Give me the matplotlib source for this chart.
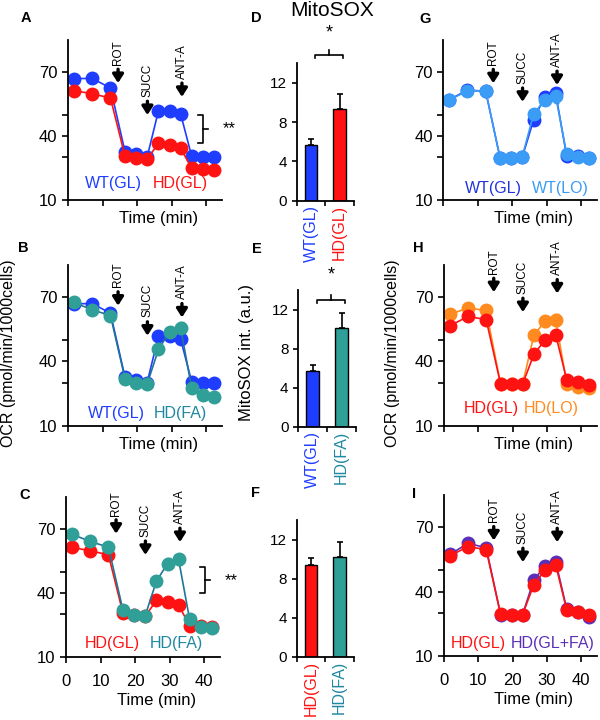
import matplotlib
matplotlib.use('Agg')
import matplotlib.pyplot as plt

plt.rcParams['font.family'] = ['Liberation Sans', 'DejaVu Sans']

# Seahorse measurement times (min)
time_min = [1.7, 7.0, 12.3, 16.5, 19.7, 22.9, 26.2, 29.4, 32.6, 35.8, 39.0, 42.2]
time_ticks = [0, 10, 20, 30, 40]
ocr_ticks = [10, 30, 40, 50, 70]
ocr_labels = ['10', '', '40', '', '70']
injections = ['ROT', 'SUCC', 'ANT-A']

# OCR series (pmol/min/1000cells), panels A-C
wt_gl = [66.9, 67.0, 62.5, 32.7, 31.4, 30.0, 51.8, 51.8, 50.5, 30.6, 30.0, 30.0]
wt_gl_err = [1.2, 1.2, 1.0, 1.0, 0.8, 0.8, 1.5, 2.0, 1.8, 1.0, 0.8, 0.8]
hd_gl = [61.3, 59.8, 57.8, 30.6, 29.6, 29.1, 36.6, 35.6, 34.4, 24.8, 24.4, 24.0]
hd_gl_err = [1.0, 1.0, 1.0, 0.8, 0.8, 0.8, 1.5, 2.0, 2.0, 1.0, 0.8, 0.8]
hd_fa = [67.5, 64.1, 61.4, 32.0, 29.7, 29.3, 45.6, 53.7, 55.8, 27.7, 24.3, 23.6]
hd_fa_err = [1.8, 1.8, 2.0, 1.0, 0.8, 0.8, 2.0, 2.5, 2.5, 1.5, 1.0, 0.8]

# panel G
g_wt_gl = [57.0, 61.5, 61.0, 29.5, 29.5, 30.0, 47.5, 58.4, 60.0, 30.6, 30.5, 29.8]
g_wt_gl_err = [2.0, 2.5, 2.5, 0.8, 0.5, 0.5, 1.5, 2.0, 2.5, 1.0, 1.0, 0.8]
g_wt_lo = [56.8, 61.2, 61.1, 29.5, 29.5, 30.3, 50.3, 56.8, 58.7, 31.5, 30.3, 29.8]
g_wt_lo_err = [2.0, 2.5, 2.5, 0.8, 0.5, 0.5, 1.5, 2.5, 3.0, 1.5, 1.5, 1.0]

# panels H and I
h_hd_gl = [56.6, 61.0, 59.5, 29.4, 29.3, 29.3, 43.3, 49.9, 52.2, 31.3, 30.4, 29.0]
h_hd_gl_err = [1.5, 1.8, 1.8, 0.5, 0.5, 0.5, 1.5, 2.0, 2.2, 1.0, 1.0, 1.0]
h_hd_lo = [62.0, 64.9, 63.8, 29.4, 29.4, 29.4, 52.2, 58.7, 59.2, 29.4, 28.1, 27.4]
h_hd_lo_err = [1.5, 1.8, 2.0, 0.5, 0.5, 0.5, 2.0, 2.5, 2.8, 1.5, 1.5, 1.2]
i_hd_glfa = [57.3, 62.5, 60.4, 29.3, 29.3, 29.3, 45.6, 51.7, 53.7, 31.7, 30.5, 28.2]
i_hd_glfa_err = [1.5, 1.5, 1.5, 0.5, 0.5, 0.5, 1.5, 2.0, 2.0, 1.0, 1.0, 1.0]

# MitoSOX bars (a.u.)
d_groups = ['WT(GL)', 'HD(GL)']
d_values = [5.65, 9.36]
d_err = [0.65, 1.5]
e_groups = ['WT(GL)', 'HD(FA)']
e_values = [5.67, 10.13]
e_err = [0.68, 1.52]
f_groups = ['HD(GL)', 'HD(FA)']
f_values = [9.43, 10.2]
f_err = [0.67, 1.55]

BLUE = '#1f3dff'
RED = '#ff1212'
TEAL = '#2f9f97'
TEAL_LINE = '#1f7596'
TEAL_TEXT = '#1f88a0'
LIGHT_BLUE = '#3a9cf5'
ORANGE = '#ff8a1f'
PURPLE = '#5b2fb8'

W, H = 600, 720
fig = plt.figure(figsize=(6, 7.2), dpi=100)


def px_axes(l, t, r, b):
    return fig.add_axes([l / W, 1 - b / H, (r - l) / W, (b - t) / H])


def style_axes(ax):
    for s in ['top', 'right']:
        ax.spines[s].set_visible(False)
    for s in ['left', 'bottom']:
        ax.spines[s].set_linewidth(1.3)


def line_panel(ax, series, tips, legend, leg_y, show_xlabels):
    style_axes(ax)
    for vals, errs, color, lcolor in series:
        ax.errorbar(time_min, vals, yerr=errs, color=lcolor, lw=1.2,
                    marker='o', ms=9, mfc=color, mec=color,
                    ecolor=color, elinewidth=1, capsize=1.8)
    ax.set_xlim(0, 44.6)
    ax.set_ylim(10, 85)
    ax.set_yticks(ocr_ticks, ocr_labels, fontsize=12)
    ax.set_xticks(time_ticks)
    if show_xlabels:
        ax.set_xticklabels([str(t) for t in time_ticks], fontsize=12)
        ax.tick_params(axis='x', pad=8)
    else:
        ax.set_xticklabels([])
    ax.tick_params(direction='out', length=4, width=1.2)
    ax.set_xlabel('Time (min)', fontsize=12)
    ax.xaxis.set_label_coords(0.585, -0.225 if show_xlabels else -0.07)
    # injection arrows
    for name, x, tip in zip(injections, [14.5, 23.0, 33.0], tips):
        ax.annotate('', xy=(x, tip), xytext=(x, tip + 6.5),
                    arrowprops=dict(arrowstyle='-|>,head_length=0.5,head_width=0.32',
                                    lw=2.4, color='black', shrinkA=0, shrinkB=0))
        ax.text(x, tip + 8.5, name, rotation=90, ha='center', va='bottom',
                fontsize=8.5)
    for txt, col, x in legend:
        ax.text(x, leg_y, txt, color=col, fontsize=11.5, ha='left',
                va='center', transform=ax.transAxes)


def bracket_stars(ax, x, top, bottom):
    mid = (top + bottom) / 2
    ax.plot([x - 1.4, x, x, x - 1.4], [top, top, bottom, bottom],
            color='black', lw=1.2, clip_on=False)
    ax.plot([x, x + 1.5], [mid, mid], color='black', lw=1.2, clip_on=False)
    ax.text(x + 7.5, mid, '**', fontsize=12, ha='center', va='center')


def bar_panel(ax, groups, values, errs, colors, label_colors, sig=None):
    style_axes(ax)
    ax.bar([0.5, 1.5], values, width=0.44, color=colors,
           edgecolor='black', lw=1.0)
    ax.errorbar([0.5, 1.5], values, yerr=[[0, 0], errs], fmt='none',
                ecolor='black', elinewidth=1.2, capsize=2.5, capthick=1.2)
    ax.set_xlim(0, 2)
    ax.set_ylim(0, 14)
    ax.set_yticks([0, 4, 8, 12])
    ax.set_yticklabels(['0', '4', '8', '12'], fontsize=11)
    ax.set_xticks([0, 1, 2])
    ax.set_xticklabels([])
    ax.set_xticks([0.5, 1.5], minor=True)
    ax.set_xticklabels(groups, minor=True, rotation=90, fontsize=11.5)
    for lab, col in zip(ax.get_xticklabels(minor=True), label_colors):
        lab.set_color(col)
    ax.tick_params(axis='x', which='minor', length=0, pad=3)
    ax.tick_params(direction='out', length=3.5, width=1.2)
    if sig is not None:
        y_bar, y_star = sig
        ax.plot([0.65, 0.65, 1.62, 1.62], [y_bar - 0.35, y_bar, y_bar, y_bar - 0.35],
                color='black', lw=1.2, clip_on=False)
        ax.plot([1.135, 1.135], [y_bar, y_bar + 0.45], color='black', lw=1.2,
                clip_on=False)
        ax.text(1.135, y_star, '*', fontsize=13, ha='center', va='center')


# column 1
ax_a = px_axes(68, 40, 222, 200)
line_panel(ax_a, [(wt_gl, wt_gl_err, BLUE, BLUE), (hd_gl, hd_gl_err, RED, RED)],
           [64.8, 49.8, 58.3],
           [('WT(GL)', BLUE, 0.11), ('HD(GL)', RED, 0.552)], 0.106, False)
bracket_stars(ax_a, 39.1, 49.8, 36.7)

ax_b = px_axes(68, 265, 222, 425.7)
line_panel(ax_b, [(wt_gl, wt_gl_err, BLUE, BLUE), (hd_fa, hd_fa_err, TEAL, TEAL_LINE)],
           [66.0, 52.0, 60.5],
           [('WT(GL)', BLUE, 0.13), ('HD(FA)', TEAL_TEXT, 0.554)], 0.077, False)
ax_b.set_ylabel('OCR (pmol/min/1000cells)', fontsize=11.5)
ax_b.yaxis.set_label_coords(-0.335, 0.45)

ax_c = px_axes(66, 496.7, 220, 657.3)
line_panel(ax_c, [(hd_gl, hd_gl_err, RED, RED), (hd_fa, hd_fa_err, TEAL, TEAL_LINE)],
           [67.7, 57.8, 63.8],
           [('HD(GL)', RED, 0.123), ('HD(FA)', TEAL_TEXT, 0.541)], 0.087, True)
bracket_stars(ax_c, 40.3, 52.0, 40.0)

# column 2
ax_d = px_axes(296.7, 63, 354, 200.7)
bar_panel(ax_d, d_groups, d_values, d_err, [BLUE, RED], [BLUE, RED],
          sig=(14.86, 17.1))
ax_e = px_axes(298.3, 290, 356, 426.7)
bar_panel(ax_e, e_groups, e_values, e_err, [BLUE, TEAL], [BLUE, TEAL_TEXT],
          sig=(13.0, 15.5))
ax_e.set_ylabel('MitoSOX int. (a.u.)', fontsize=12)
ax_e.yaxis.set_label_coords(-0.77, 0.54)
ax_f = px_axes(296.7, 520, 354, 656.7)
bar_panel(ax_f, f_groups, f_values, f_err, [RED, TEAL], [RED, TEAL_TEXT])
fig.text(331.7 / W, 1 - 10 / H, 'MitoSOX', fontsize=15, ha='center', va='center')

# column 3
ax_g = px_axes(443.3, 40, 597, 200)
line_panel(ax_g, [(g_wt_gl, g_wt_gl_err, BLUE, BLUE),
                  (g_wt_lo, g_wt_lo_err, LIGHT_BLUE, LIGHT_BLUE)],
           [64.7, 56.0, 63.9],
           [('WT(GL)', '#2233dd', 0.141), ('WT(LO)', LIGHT_BLUE, 0.575)], 0.075, False)

ax_h = px_axes(444, 265, 597, 425.7)
line_panel(ax_h, [(h_hd_lo, h_hd_lo_err, ORANGE, ORANGE),
                  (h_hd_gl, h_hd_gl_err, RED, RED)],
           [72.3, 63.0, 71.7],
           [('HD(GL)', RED, 0.126), ('HD(LO)', ORANGE, 0.523)], 0.108, False)
ax_h.set_ylabel('OCR (pmol/min/1000cells)', fontsize=11.5)
ax_h.yaxis.set_label_coords(-0.29, 0.45)

ax_i = px_axes(444, 495, 597, 656)
line_panel(ax_i, [(i_hd_glfa, i_hd_glfa_err, PURPLE, PURPLE),
                  (h_hd_gl, h_hd_gl_err, RED, RED)],
           [63.8, 53.7, 63.0],
           [('HD(GL)', RED, 0.044), ('HD(GL+FA)', PURPLE, 0.435)], 0.079, True)

# panel letters
for letter, x, y in [('A', 26, 18), ('B', 23, 248), ('C', 25, 495),
                     ('D', 256, 18), ('E', 257, 249), ('F', 255, 493),
                     ('G', 425, 19), ('H', 418, 248), ('I', 414, 494)]:
    fig.text(x / W, 1 - y / H, letter, fontsize=10.5, fontweight='bold',
             ha='center', va='center')

fig.savefig('out.png', dpi=100)
